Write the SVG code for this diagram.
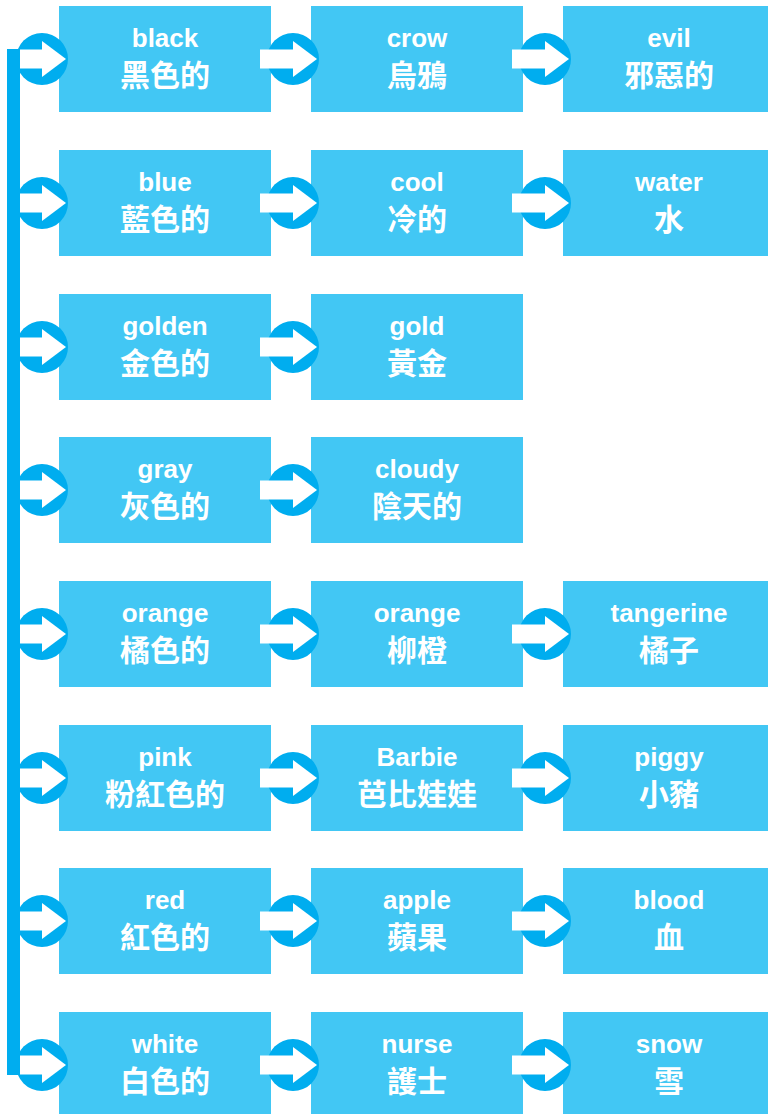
<svg xmlns="http://www.w3.org/2000/svg" xmlns:xlink="http://www.w3.org/1999/xlink" width="768" height="1114" viewBox="0 0 768 1114">
<style>
.box{fill:#42C7F4}
.en{font-family:"Liberation Sans","Noto Sans CJK TC",sans-serif;font-weight:bold;font-size:26px;fill:#fff;text-anchor:middle}
.zh{font-family:"Noto Sans CJK TC","Noto Sans CJK SC",sans-serif;font-weight:bold;font-size:30px;fill:#fff;text-anchor:middle}
</style>
<defs>
<g id="arr">
<circle cx="0" cy="0" r="26" fill="#00ADEF"/>
<rect x="-33" y="-9.5" width="33" height="19" fill="#fff"/>
<polygon points="0,-18 24,0 0,18" fill="#fff"/>
</g>
</defs>
<g id="nodes">
<g id="n1a"><rect class="box" x="59" y="6" width="212" height="106"/><text class="en" x="165" y="47">black</text><text class="zh" x="165" y="86">黑色的</text></g>
<g id="n1b"><rect class="box" x="311" y="6" width="212" height="106"/><text class="en" x="417" y="47">crow</text><text class="zh" x="417" y="86">烏鴉</text></g>
<g id="n1c"><rect class="box" x="563" y="6" width="212" height="106"/><text class="en" x="669" y="47">evil</text><text class="zh" x="669" y="86">邪惡的</text></g>

<g id="n2a"><rect class="box" x="59" y="150" width="212" height="106"/><text class="en" x="165" y="191">blue</text><text class="zh" x="165" y="230">藍色的</text></g>
<g id="n2b"><rect class="box" x="311" y="150" width="212" height="106"/><text class="en" x="417" y="191">cool</text><text class="zh" x="417" y="230">冷的</text></g>
<g id="n2c"><rect class="box" x="563" y="150" width="212" height="106"/><text class="en" x="669" y="191">water</text><text class="zh" x="669" y="230">水</text></g>

<g id="n3a"><rect class="box" x="59" y="294" width="212" height="106"/><text class="en" x="165" y="335">golden</text><text class="zh" x="165" y="374">金色的</text></g>
<g id="n3b"><rect class="box" x="311" y="294" width="212" height="106"/><text class="en" x="417" y="335">gold</text><text class="zh" x="417" y="374">黃金</text></g>

<g id="n4a"><rect class="box" x="59" y="437" width="212" height="106"/><text class="en" x="165" y="478">gray</text><text class="zh" x="165" y="517">灰色的</text></g>
<g id="n4b"><rect class="box" x="311" y="437" width="212" height="106"/><text class="en" x="417" y="478">cloudy</text><text class="zh" x="417" y="517">陰天的</text></g>

<g id="n5a"><rect class="box" x="59" y="581" width="212" height="106"/><text class="en" x="165" y="622">orange</text><text class="zh" x="165" y="661">橘色的</text></g>
<g id="n5b"><rect class="box" x="311" y="581" width="212" height="106"/><text class="en" x="417" y="622">orange</text><text class="zh" x="417" y="661">柳橙</text></g>
<g id="n5c"><rect class="box" x="563" y="581" width="212" height="106"/><text class="en" x="669" y="622">tangerine</text><text class="zh" x="669" y="661">橘子</text></g>

<g id="n6a"><rect class="box" x="59" y="725" width="212" height="106"/><text class="en" x="165" y="766">pink</text><text class="zh" x="165" y="805">粉紅色的</text></g>
<g id="n6b"><rect class="box" x="311" y="725" width="212" height="106"/><text class="en" x="417" y="766">Barbie</text><text class="zh" x="417" y="805">芭比娃娃</text></g>
<g id="n6c"><rect class="box" x="563" y="725" width="212" height="106"/><text class="en" x="669" y="766">piggy</text><text class="zh" x="669" y="805">小豬</text></g>

<g id="n7a"><rect class="box" x="59" y="868" width="212" height="106"/><text class="en" x="165" y="909">red</text><text class="zh" x="165" y="948">紅色的</text></g>
<g id="n7b"><rect class="box" x="311" y="868" width="212" height="106"/><text class="en" x="417" y="909">apple</text><text class="zh" x="417" y="948">蘋果</text></g>
<g id="n7c"><rect class="box" x="563" y="868" width="212" height="106"/><text class="en" x="669" y="909">blood</text><text class="zh" x="669" y="948">血</text></g>

<g id="n8a"><rect class="box" x="59" y="1012" width="212" height="106"/><text class="en" x="165" y="1053">white</text><text class="zh" x="165" y="1092">白色的</text></g>
<g id="n8b"><rect class="box" x="311" y="1012" width="212" height="106"/><text class="en" x="417" y="1053">nurse</text><text class="zh" x="417" y="1092">護士</text></g>
<g id="n8c"><rect class="box" x="563" y="1012" width="212" height="106"/><text class="en" x="669" y="1053">snow</text><text class="zh" x="669" y="1092">雪</text></g>
</g>
<g id="connectors">
<use xlink:href="#arr" x="42" y="59"/><use xlink:href="#arr" x="293" y="59"/><use xlink:href="#arr" x="545" y="59"/>
<use xlink:href="#arr" x="42" y="203"/><use xlink:href="#arr" x="293" y="203"/><use xlink:href="#arr" x="545" y="203"/>
<use xlink:href="#arr" x="42" y="347"/><use xlink:href="#arr" x="293" y="347"/>
<use xlink:href="#arr" x="42" y="490"/><use xlink:href="#arr" x="293" y="490"/>
<use xlink:href="#arr" x="42" y="634"/><use xlink:href="#arr" x="293" y="634"/><use xlink:href="#arr" x="545" y="634"/>
<use xlink:href="#arr" x="42" y="778"/><use xlink:href="#arr" x="293" y="778"/><use xlink:href="#arr" x="545" y="778"/>
<use xlink:href="#arr" x="42" y="921"/><use xlink:href="#arr" x="293" y="921"/><use xlink:href="#arr" x="545" y="921"/>
<use xlink:href="#arr" x="42" y="1065"/><use xlink:href="#arr" x="293" y="1065"/><use xlink:href="#arr" x="545" y="1065"/>
<rect x="7" y="49" width="13" height="1026" fill="#00ADEF"/>
</g>
</svg>
